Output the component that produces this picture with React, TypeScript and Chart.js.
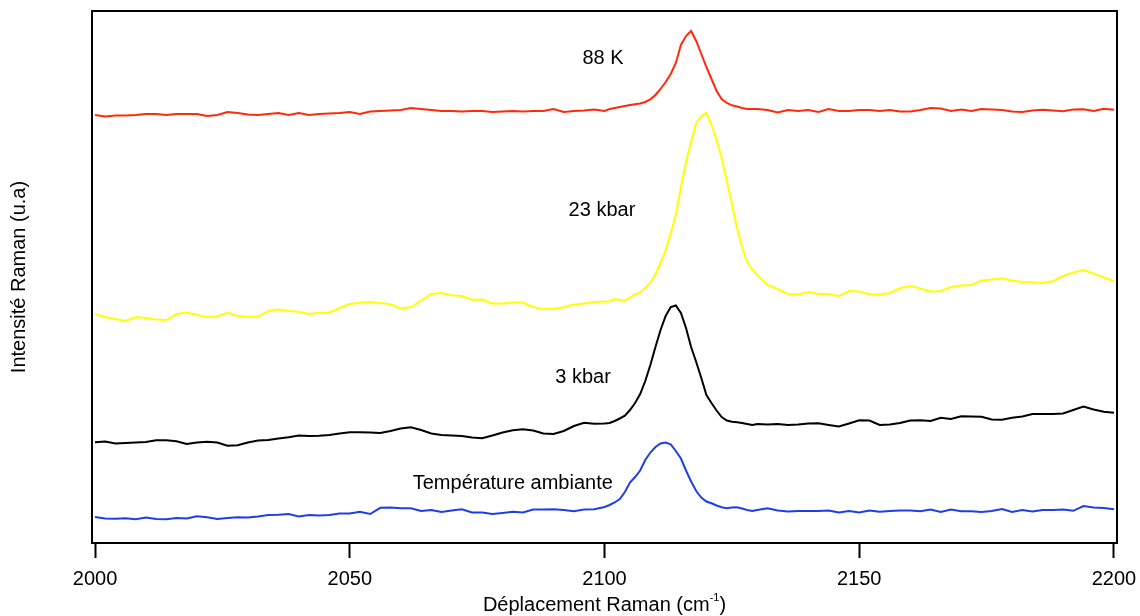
import React, { useEffect, useRef } from "react";
import { Chart, registerables } from "chart.js";

Chart.register(...registerables);

// Wavenumber sampling grid (cm-1)
const wavenumbers = [
  2000, 2002, 2004, 2006, 2008, 2010, 2012, 2014, 2016, 2018,
  2020, 2022, 2024, 2026, 2028, 2030, 2032, 2034, 2036, 2038,
  2040, 2042, 2044, 2046, 2048, 2050, 2052, 2054, 2056, 2058,
  2060, 2062, 2064, 2066, 2068, 2070, 2072, 2074, 2076, 2078,
  2080, 2082, 2084, 2086, 2088, 2090, 2092, 2094, 2096, 2098,
  2100, 2101, 2102, 2103, 2104, 2105, 2106, 2107, 2108, 2109,
  2110, 2111, 2112, 2113, 2114, 2115, 2116, 2117, 2118, 2119,
  2120, 2121, 2122, 2123, 2124, 2125, 2126, 2127, 2128, 2129,
  2130,
  2132, 2134, 2136, 2138, 2140, 2142, 2144, 2146, 2148, 2150,
  2152, 2154, 2156, 2158, 2160, 2162, 2164, 2166, 2168, 2170,
  2172, 2174, 2176, 2178, 2180, 2182, 2184, 2186, 2188, 2190,
  2192, 2194, 2196, 2198, 2200,
];

// 88 K (red, offset spectrum)
const spectrum88K = [
  428, 426.5, 427.5, 427.5, 428, 429, 429, 428, 429, 429,
  429, 427, 428, 431, 430, 428.5, 428, 429, 430, 428,
  430, 428, 429, 429.5, 430, 431, 429, 431.5, 432, 432.5,
  433, 435, 434, 433, 432, 432, 431.5, 432, 432, 431,
  431.5, 432, 431.5, 432, 432, 434, 431, 432, 432.5, 433.5,
  432, 434, 435, 436, 437, 438, 438.7, 439.5, 441, 443.7,
  448, 454, 461, 469, 480, 498, 507, 512, 502, 489,
  476, 464, 452, 444, 440, 437.7, 436.5, 435, 434, 434,
  434,
  433, 430.5, 433, 432, 433, 431, 434, 432, 432, 433,
  433, 432, 433, 431.5, 431.5, 433, 435, 434.5, 432, 433.5,
  432, 434, 433.5, 433, 431.5, 431, 432.5, 433.3, 432.5, 431.7,
  433.5, 433.7, 432, 434.3, 433.3,
];

// 23 kbar (yellow)
const spectrum23kbar = [
  229, 226, 224, 222, 226, 225, 223.5, 223, 229, 230.5,
  228, 226, 226.5, 230.5, 227, 226.3, 226.3, 232, 233.5, 232,
  231.3, 229, 230.3, 230.5, 235, 239, 240.3, 241, 240, 238.7,
  234.5, 236, 242.5, 249, 250, 247.7, 247, 243.3, 243.5, 239.5,
  239.5, 240.5, 240.5, 236, 234, 234, 236, 238.5, 239.5, 241,
  241.5, 241.5, 244, 243, 242.3, 245.5, 248.5, 250.5, 255, 260.3,
  269, 280, 293, 310, 328, 356, 381, 401, 420, 427,
  430, 418, 403, 385, 362, 340, 315, 296, 281, 273.5,
  268,
  258, 254, 249, 248.5, 251, 249, 249, 247, 252, 251.5,
  248.7, 248.5, 250, 254.7, 257, 254.5, 251.5, 252, 256, 257.5,
  258, 262.5, 263.5, 264.5, 262.5, 261, 260.7, 260, 261.7, 267,
  270.5, 273, 269.5, 265.5, 262,
];

// 3 kbar (black)
const spectrum3kbar = [
  100.7, 101.5, 99.5, 100, 100.5, 101, 102.8, 102.7, 101.7, 99,
  100.5, 101.3, 100.5, 97.3, 97.7, 100.5, 102.5, 103, 104.5, 105.7,
  107.5, 107, 107.3, 108, 109.5, 110.7, 110.7, 110.5, 110, 112,
  114.5, 115.8, 113, 109.5, 108, 107.5, 107, 105.5, 104.7, 107.5,
  110.5, 112.7, 113.7, 112.5, 109.5, 109, 112, 117, 120.2, 119.2,
  119.5, 120, 122, 124.5, 127.3, 133, 140, 149, 162, 178,
  196, 213, 227, 236, 237.5, 230, 215, 196, 181, 165,
  148, 140, 132.5, 126, 122.5, 121.3, 120.7, 120, 119, 118,
  119,
  118.5, 119, 118, 118.5, 119.5, 119.7, 118, 116.5, 119.5, 122.7,
  122.5, 118, 118.5, 120, 122.5, 122.7, 122, 125.3, 124, 126.8,
  126.5, 126.2, 123.5, 123.2, 125.3, 126.5, 129, 129, 129, 129.5,
  133, 136.5, 133.5, 131.2, 130.3,
];

// Température ambiante (blue)
const spectrumAmbient = [
  26, 24.5, 24.2, 24.7, 23.8, 25.5, 24, 23.8, 25, 24.5,
  26.7, 25.8, 24, 25, 25.8, 25.5, 26.5, 28, 28.3, 29,
  26.5, 28, 27.5, 28, 29.5, 29.5, 31.3, 29, 35.2, 35.5,
  34.7, 34.7, 32, 33, 31, 32.5, 33.7, 30.5, 30.5, 29,
  30, 31.2, 30.5, 33.5, 33.5, 33.8, 33, 31.8, 33.5, 33.7,
  36, 38, 40.5, 44, 51, 60.5, 66, 72.5, 83, 90.5,
  96, 99.5, 100.5, 98.6, 92, 84.5, 72.5, 61.5, 52, 45.5,
  41.5, 39.7, 37.5, 35.7, 34.7, 35.5, 35.8, 34.5, 33, 32,
  33,
  34.7, 32.5, 31.5, 32, 32, 32, 32.5, 30.5, 32, 30.5,
  32.5, 31.2, 32, 32.5, 32.5, 31.8, 33.5, 31, 33.5, 31.7,
  31.8, 31, 32, 34, 31, 33, 31.5, 33, 33, 33.5,
  32.2, 37, 35.5, 35, 33.7,
];

const xTicks = [2000, 2050, 2100, 2150, 2200];

const seriesNames = ["88 K", "23 kbar", "3 kbar", "Température ambiante"];
const seriesValues = [spectrum88K, spectrum23kbar, spectrum3kbar, spectrumAmbient];
const seriesColors = ["#ff2a0a", "#ffff00", "#000000", "#1f3fe6"];

// Label anchors (in data units: wavenumber, intensity)
const labelX = [2099.7, 2099.5, 2095.8, 2082];
const labelY = [485, 332.5, 166, 60];

const FONT = '"Liberation Sans", Arial, Helvetica, sans-serif';
const FS = 20;

const decorPlugin = {
  id: "decor",
  afterDraw(chart: any) {
    const { ctx, chartArea, scales } = chart;
    const { left, top, right, bottom } = chartArea;
    ctx.save();
    ctx.strokeStyle = "#000";
    ctx.lineWidth = 2;
    ctx.strokeRect(left, top, right - left, bottom - top);

    ctx.fillStyle = "#000";
    ctx.font = `${FS}px ${FONT}`;
    ctx.textAlign = "center";
    ctx.textBaseline = "middle";
    seriesNames.forEach((t, i) => {
      ctx.fillText(t, scales.x.getPixelForValue(labelX[i]), scales.y.getPixelForValue(labelY[i]));
    });

    // x-axis title with superscript
    const main = "Déplacement Raman (cm";
    const sup = "-1";
    const close = ")";
    ctx.textAlign = "left";
    ctx.textBaseline = "alphabetic";
    ctx.font = `${FS}px ${FONT}`;
    const w1 = ctx.measureText(main).width;
    const w3 = ctx.measureText(close).width;
    ctx.font = `11px ${FONT}`;
    const w2 = ctx.measureText(sup).width;
    const total = w1 + w2 + w3;
    const cx = (left + right) / 2;
    const base = bottom + 68;
    let x0 = cx - total / 2;
    ctx.font = `${FS}px ${FONT}`;
    ctx.fillText(main, x0, base);
    x0 += w1;
    ctx.font = `11px ${FONT}`;
    ctx.fillText(sup, x0, base - 10);
    x0 += w2;
    ctx.font = `${FS}px ${FONT}`;
    ctx.fillText(close, x0, base);
    ctx.restore();
  },
};

export default function App() {
  const ref = useRef<HTMLCanvasElement | null>(null);

  useEffect(() => {
    document.body.style.margin = "0";
    if (!ref.current) return;
    Chart.defaults.font.family = FONT;
    const chart = new Chart(ref.current, {
      type: "line",
      data: {
        datasets: seriesValues.map((vals, i) => ({
          label: seriesNames[i],
          data: wavenumbers.map((x, j) => ({ x, y: vals[j] })),
          borderColor: seriesColors[i],
          backgroundColor: seriesColors[i],
          borderWidth: 2,
          pointRadius: 0,
          tension: 0,
          fill: false,
        })),
      },
      options: {
        animation: false,
        responsive: false,
        maintainAspectRatio: false,
        layout: { padding: { top: 11, right: 23, left: 0, bottom: 0 } },
        plugins: {
          legend: { display: false },
          tooltip: { enabled: false },
        },
        scales: {
          x: {
            type: "linear",
            min: 1999.41,
            max: 2200.59,
            afterBuildTicks: (s: any) => {
              s.ticks = xTicks.map((v) => ({ value: v }));
            },
            afterFit: (s: any) => {
              s.height = 73;
              s.paddingLeft = 0;
              s.paddingRight = 0;
            },
            ticks: {
              color: "#000",
              font: { size: FS, family: FONT },
              padding: 9,
              maxRotation: 0,
              autoSkip: false,
              callback: (v: any) => String(v),
            },
            grid: {
              display: true,
              drawOnChartArea: false,
              drawTicks: true,
              tickLength: 15,
              tickWidth: 2,
              tickColor: "#000",
            },
            border: { display: false },
          },
          y: {
            type: "linear",
            min: 0,
            max: 532,
            afterFit: (s: any) => {
              s.width = 92;
              s.paddingTop = 0;
              s.paddingBottom = 0;
            },
            ticks: { display: false },
            grid: { display: false, drawTicks: false },
            border: { display: false },
            title: {
              display: true,
              text: "Intensité Raman (u.a)",
              color: "#000",
              font: { size: FS, family: FONT },
              padding: { top: 7, bottom: 0 },
            },
          },
        },
      },
      plugins: [decorPlugin],
    });
    return () => chart.destroy();
  }, []);

  return (
    <div style={{ width: 1140, height: 616 }}>
      <canvas ref={ref} width={1140} height={616} />
    </div>
  );
}
